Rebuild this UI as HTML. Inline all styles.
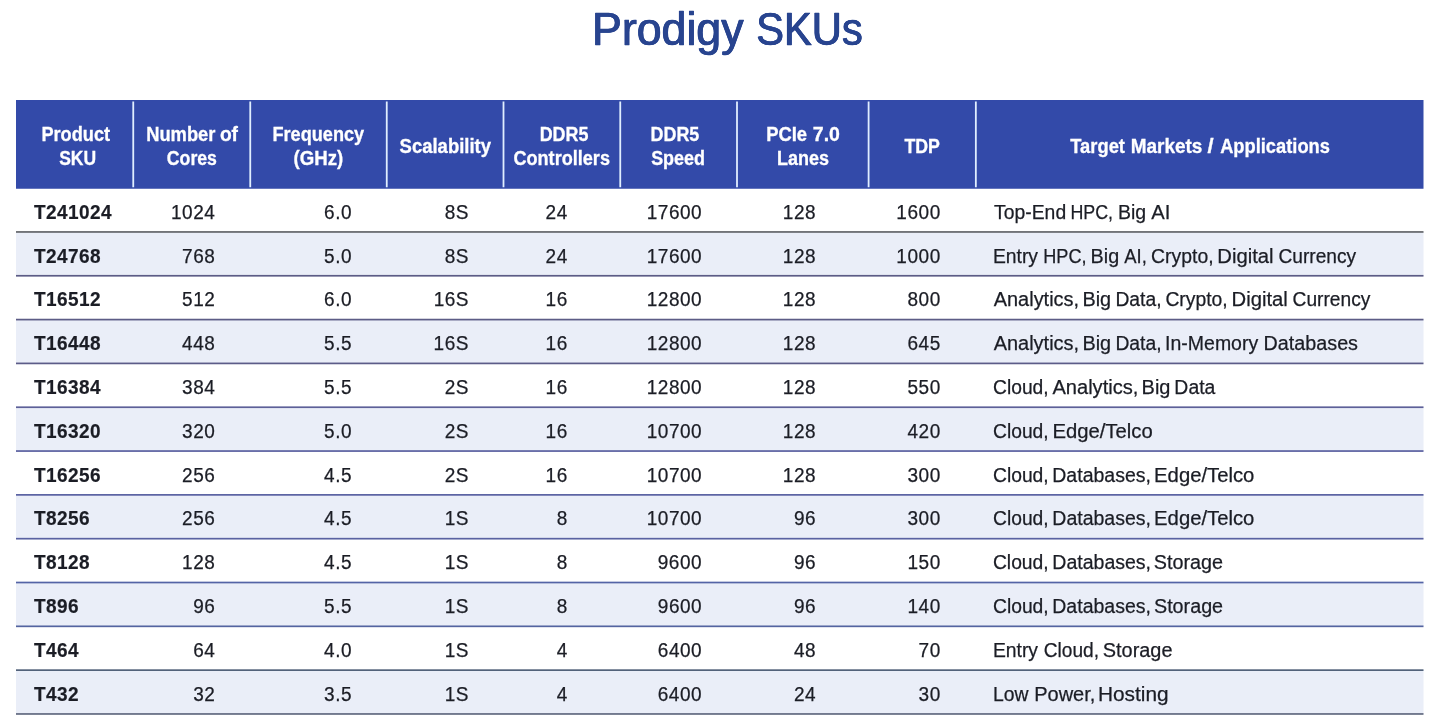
<!DOCTYPE html>
<html lang="en">
<head>
<meta charset="utf-8">
<title>Prodigy SKUs</title>
<style>
*{margin:0;padding:0;box-sizing:border-box}
html,body{width:1440px;height:720px;overflow:hidden;background:#fff}
body{position:relative;font-family:"Liberation Sans",Arial,Helvetica,sans-serif;color:#1b1d25}
svg.bg{position:absolute;left:0;top:0;width:1440px;height:720px}
.t{position:absolute;left:0;top:0;white-space:nowrap;line-height:1;transform-origin:0 0}
h1{font-size:45.6px;font-weight:normal;color:#28448f;-webkit-text-stroke:0.5px #28448f;text-shadow:0.5px 0 0 #28448f,-0.5px 0 0 #28448f}
.h{font-size:19.6px;font-weight:bold;color:#fff;-webkit-text-stroke:0.3px #fff}
.b{font-size:20.0px;font-weight:bold;-webkit-text-stroke:0.2px #1b1d25}
.n{font-size:20.0px;-webkit-text-stroke:0.25px #1b1d25}
</style>
</head>
<body>
<svg class="bg" width="1440" height="720" viewBox="0 0 1440 720" aria-hidden="true"><rect x="16" y="100" width="1407.5" height="88.75" fill="#334aa9"/><rect x="132.35" y="101.5" width="1.8" height="85.75" fill="#e0eeff"/><rect x="249.35" y="101.5" width="1.8" height="85.75" fill="#e0eeff"/><rect x="385.85" y="101.5" width="1.8" height="85.75" fill="#e0eeff"/><rect x="502.6" y="101.5" width="1.8" height="85.75" fill="#e0eeff"/><rect x="619.35" y="101.5" width="1.8" height="85.75" fill="#e0eeff"/><rect x="736.1" y="101.5" width="1.8" height="85.75" fill="#e0eeff"/><rect x="867.7" y="101.5" width="1.8" height="85.75" fill="#e0eeff"/><rect x="974.95" y="101.5" width="1.8" height="85.75" fill="#e0eeff"/><rect x="16" y="231.95" width="1407.5" height="43.82" fill="#eaeef8"/><rect x="16" y="319.59" width="1407.5" height="43.82" fill="#eaeef8"/><rect x="16" y="407.23" width="1407.5" height="43.82" fill="#eaeef8"/><rect x="16" y="494.87" width="1407.5" height="43.82" fill="#eaeef8"/><rect x="16" y="582.51" width="1407.5" height="43.82" fill="#eaeef8"/><rect x="16" y="670.15" width="1407.5" height="43.82" fill="#eaeef8"/><rect x="16" y="231.1" width="1407.5" height="1.7" fill="#63656a"/><rect x="16" y="274.92" width="1407.5" height="1.7" fill="#5c5c86"/><rect x="16" y="318.74" width="1407.5" height="1.7" fill="#5c5c86"/><rect x="16" y="362.56" width="1407.5" height="1.7" fill="#5c5c88"/><rect x="16" y="406.38" width="1407.5" height="1.7" fill="#5d6098"/><rect x="16" y="450.2" width="1407.5" height="1.7" fill="#5a60a0"/><rect x="16" y="494.02" width="1407.5" height="1.7" fill="#5a62a2"/><rect x="16" y="537.84" width="1407.5" height="1.7" fill="#5a62a2"/><rect x="16" y="581.66" width="1407.5" height="1.7" fill="#5464a6"/><rect x="16" y="625.48" width="1407.5" height="1.7" fill="#5464a0"/><rect x="16" y="669.3" width="1407.5" height="1.7" fill="#52627a"/><rect x="16" y="713.12" width="1407.5" height="1.7" fill="#626a80"/></svg>
<h1><span class="t" style="transform:translate(592.09px,7px) scaleX(0.9796)">Prodigy</span> 
<span class="t" style="transform:translate(756.16px,7px) scaleX(0.9144)">SKUs</span></h1>
<div class="th"><span class="t h" style="transform:translate(41.41px,125px) scaleX(0.927)">Product</span> 
<span class="t h" style="transform:translate(59.19px,149px) scaleX(0.8931)">SKU</span></div>
<div class="th"><span class="t h" style="transform:translate(146.16px,125px) scaleX(0.9358)">Number</span> 
<span class="t h" style="transform:translate(219.89px,125px) scaleX(0.9791)">of</span> 
<span class="t h" style="transform:translate(166.83px,149px) scaleX(0.902)">Cores</span></div>
<div class="th"><span class="t h" style="transform:translate(272.48px,125px) scaleX(0.9252)">Frequency</span> 
<span class="t h" style="transform:translate(293.6px,149px) scaleX(0.9507)">(GHz)</span></div>
<div class="th"><span class="t h" style="transform:translate(399.59px,137px) scaleX(0.943)">Scalability</span></div>
<div class="th"><span class="t h" style="transform:translate(539.68px,125px) scaleX(0.9126)">DDR5</span> 
<span class="t h" style="transform:translate(513.41px,149px) scaleX(0.924)">Controllers</span></div>
<div class="th"><span class="t h" style="transform:translate(650.55px,125px) scaleX(0.9143)">DDR5</span> 
<span class="t h" style="transform:translate(651.14px,149px) scaleX(0.9164)">Speed</span></div>
<div class="th"><span class="t h" style="transform:translate(766.22px,125px) scaleX(0.9382)">PCIe</span> 
<span class="t h" style="transform:translate(812.84px,125px) scaleX(0.9949)">7.0</span> 
<span class="t h" style="transform:translate(776.91px,149px) scaleX(0.918)">Lanes</span></div>
<div class="th"><span class="t h" style="transform:translate(904.44px,137px) scaleX(0.9066)">TDP</span></div>
<div class="th"><span class="t h" style="transform:translate(1070.28px,137px) scaleX(0.936)">Target</span> 
<span class="t h" style="transform:translate(1130.65px,137px) scaleX(0.9684)">Markets</span> 
<span class="t h" style="transform:translate(1207.44px,137px) scaleX(1.12)">/</span> 
<span class="t h" style="transform:translate(1220.15px,137px) scaleX(0.9335)">Applications</span></div>
<div class="tr"><span class="t b" style="transform:translate(34.04px,202px) scaleX(0.95);letter-spacing:0.46px">T241024</span>
<span class="t n" style="transform:translate(170.94px,202px) scaleX(0.95);letter-spacing:0.582px">1024</span>
<span class="t n" style="transform:translate(324.1px,202px) scaleX(0.95);letter-spacing:0.582px">6.0</span>
<span class="t n" style="transform:translate(444.74px,202px) scaleX(0.95);letter-spacing:0.582px">8S</span>
<span class="t n" style="transform:translate(545.58px,202px) scaleX(0.95);letter-spacing:0.582px">24</span>
<span class="t n" style="transform:translate(646.64px,202px) scaleX(0.95);letter-spacing:0.582px">17600</span>
<span class="t n" style="transform:translate(782.87px,202px) scaleX(0.95);letter-spacing:0.582px">128</span>
<span class="t n" style="transform:translate(896.28px,202px) scaleX(0.95);letter-spacing:0.582px">1600</span>
<div class="td"><span class="t n" style="transform:translate(994.09px,202px) scaleX(0.9672)">Top-End</span> 
<span class="t n" style="transform:translate(1070.42px,202px) scaleX(0.8924)">HPC,</span> 
<span class="t n" style="transform:translate(1117.91px,202px) scaleX(0.9756)">Big</span> 
<span class="t n" style="transform:translate(1151.15px,202px) scaleX(1.011)">AI</span></div></div>
<div class="tr"><span class="t b" style="transform:translate(34.04px,246px) scaleX(0.95);letter-spacing:0.46px">T24768</span>
<span class="t n" style="transform:translate(182.05px,246px) scaleX(0.95);letter-spacing:0.582px">768</span>
<span class="t n" style="transform:translate(324.1px,246px) scaleX(0.95);letter-spacing:0.582px">5.0</span>
<span class="t n" style="transform:translate(444.74px,246px) scaleX(0.95);letter-spacing:0.582px">8S</span>
<span class="t n" style="transform:translate(545.58px,246px) scaleX(0.95);letter-spacing:0.582px">24</span>
<span class="t n" style="transform:translate(646.64px,246px) scaleX(0.95);letter-spacing:0.582px">17600</span>
<span class="t n" style="transform:translate(782.87px,246px) scaleX(0.95);letter-spacing:0.582px">128</span>
<span class="t n" style="transform:translate(896.28px,246px) scaleX(0.95);letter-spacing:0.582px">1000</span>
<div class="td"><span class="t n" style="transform:translate(992.91px,246px) scaleX(0.9663)">Entry</span> 
<span class="t n" style="transform:translate(1043.2px,246px) scaleX(0.9064)">HPC,</span> 
<span class="t n" style="transform:translate(1090.58px,246px) scaleX(0.9874)">Big</span> 
<span class="t n" style="transform:translate(1124.24px,246px) scaleX(0.9217)">AI,</span> 
<span class="t n" style="transform:translate(1151.09px,246px) scaleX(0.969)">Crypto,</span> 
<span class="t n" style="transform:translate(1217.28px,246px) scaleX(1.0126)">Digital</span> 
<span class="t n" style="transform:translate(1278.44px,246px) scaleX(0.9584)">Currency</span></div></div>
<div class="tr"><span class="t b" style="transform:translate(34.04px,289px) scaleX(0.95);letter-spacing:0.46px">T16512</span>
<span class="t n" style="transform:translate(182.05px,289px) scaleX(0.95);letter-spacing:0.582px">512</span>
<span class="t n" style="transform:translate(324.1px,289px) scaleX(0.95);letter-spacing:0.582px">6.0</span>
<span class="t n" style="transform:translate(433.63px,289px) scaleX(0.95);letter-spacing:0.582px">16S</span>
<span class="t n" style="transform:translate(545.58px,289px) scaleX(0.95);letter-spacing:0.582px">16</span>
<span class="t n" style="transform:translate(646.64px,289px) scaleX(0.95);letter-spacing:0.582px">12800</span>
<span class="t n" style="transform:translate(782.87px,289px) scaleX(0.95);letter-spacing:0.582px">128</span>
<span class="t n" style="transform:translate(907.4px,289px) scaleX(0.95);letter-spacing:0.582px">800</span>
<div class="td"><span class="t n" style="transform:translate(993.71px,289px) scaleX(0.9973)">Analytics,</span> 
<span class="t n" style="transform:translate(1082.44px,289px) scaleX(0.9913)">Big</span> 
<span class="t n" style="transform:translate(1115.38px,289px) scaleX(0.965)">Data,</span> 
<span class="t n" style="transform:translate(1165.4px,289px) scaleX(0.9666)">Crypto,</span> 
<span class="t n" style="transform:translate(1231.6px,289px) scaleX(1.0116)">Digital</span> 
<span class="t n" style="transform:translate(1292.57px,289px) scaleX(0.9593)">Currency</span></div></div>
<div class="tr"><span class="t b" style="transform:translate(34.04px,333px) scaleX(0.95);letter-spacing:0.46px">T16448</span>
<span class="t n" style="transform:translate(182.05px,333px) scaleX(0.95);letter-spacing:0.582px">448</span>
<span class="t n" style="transform:translate(324.1px,333px) scaleX(0.95);letter-spacing:0.582px">5.5</span>
<span class="t n" style="transform:translate(433.62px,333px) scaleX(0.95);letter-spacing:0.582px">16S</span>
<span class="t n" style="transform:translate(545.58px,333px) scaleX(0.95);letter-spacing:0.582px">16</span>
<span class="t n" style="transform:translate(646.64px,333px) scaleX(0.95);letter-spacing:0.582px">12800</span>
<span class="t n" style="transform:translate(782.87px,333px) scaleX(0.95);letter-spacing:0.582px">128</span>
<span class="t n" style="transform:translate(907.4px,333px) scaleX(0.95);letter-spacing:0.582px">645</span>
<div class="td"><span class="t n" style="transform:translate(993.65px,333px) scaleX(0.9982)">Analytics,</span> 
<span class="t n" style="transform:translate(1082.46px,333px) scaleX(0.9915)">Big</span> 
<span class="t n" style="transform:translate(1115.42px,333px) scaleX(0.9654)">Data,</span> 
<span class="t n" style="transform:translate(1165.12px,333px) scaleX(0.9735)">In-Memory</span> 
<span class="t n" style="transform:translate(1263.58px,333px) scaleX(0.9873)">Databases</span></div></div>
<div class="tr"><span class="t b" style="transform:translate(34.04px,377px) scaleX(0.95);letter-spacing:0.46px">T16384</span>
<span class="t n" style="transform:translate(182.06px,377px) scaleX(0.95);letter-spacing:0.582px">384</span>
<span class="t n" style="transform:translate(324.1px,377px) scaleX(0.95);letter-spacing:0.582px">5.5</span>
<span class="t n" style="transform:translate(444.74px,377px) scaleX(0.95);letter-spacing:0.582px">2S</span>
<span class="t n" style="transform:translate(545.58px,377px) scaleX(0.95);letter-spacing:0.582px">16</span>
<span class="t n" style="transform:translate(646.64px,377px) scaleX(0.95);letter-spacing:0.582px">12800</span>
<span class="t n" style="transform:translate(782.87px,377px) scaleX(0.95);letter-spacing:0.582px">128</span>
<span class="t n" style="transform:translate(907.4px,377px) scaleX(0.95);letter-spacing:0.582px">550</span>
<div class="td"><span class="t n" style="transform:translate(993.03px,377px) scaleX(0.9622)">Cloud,</span> 
<span class="t n" style="transform:translate(1052.39px,377px) scaleX(1.0048)">Analytics,</span> 
<span class="t n" style="transform:translate(1141.62px,377px) scaleX(0.9979)">Big</span> 
<span class="t n" style="transform:translate(1174.37px,377px) scaleX(0.9701)">Data</span></div></div>
<div class="tr"><span class="t b" style="transform:translate(34.04px,421px) scaleX(0.95);letter-spacing:0.46px">T16320</span>
<span class="t n" style="transform:translate(182.05px,421px) scaleX(0.95);letter-spacing:0.582px">320</span>
<span class="t n" style="transform:translate(324.1px,421px) scaleX(0.95);letter-spacing:0.582px">5.0</span>
<span class="t n" style="transform:translate(444.74px,421px) scaleX(0.95);letter-spacing:0.582px">2S</span>
<span class="t n" style="transform:translate(545.58px,421px) scaleX(0.95);letter-spacing:0.582px">16</span>
<span class="t n" style="transform:translate(646.64px,421px) scaleX(0.95);letter-spacing:0.582px">10700</span>
<span class="t n" style="transform:translate(782.87px,421px) scaleX(0.95);letter-spacing:0.582px">128</span>
<span class="t n" style="transform:translate(907.4px,421px) scaleX(0.95);letter-spacing:0.582px">420</span>
<div class="td"><span class="t n" style="transform:translate(993.03px,421px) scaleX(0.9622)">Cloud,</span> 
<span class="t n" style="transform:translate(1052.38px,421px) scaleX(1.0137)">Edge/Telco</span></div></div>
<div class="tr"><span class="t b" style="transform:translate(34.04px,465px) scaleX(0.95);letter-spacing:0.46px">T16256</span>
<span class="t n" style="transform:translate(182.06px,465px) scaleX(0.95);letter-spacing:0.582px">256</span>
<span class="t n" style="transform:translate(324.1px,465px) scaleX(0.95);letter-spacing:0.582px">4.5</span>
<span class="t n" style="transform:translate(444.75px,465px) scaleX(0.95);letter-spacing:0.582px">2S</span>
<span class="t n" style="transform:translate(545.58px,465px) scaleX(0.95);letter-spacing:0.582px">16</span>
<span class="t n" style="transform:translate(646.64px,465px) scaleX(0.95);letter-spacing:0.582px">10700</span>
<span class="t n" style="transform:translate(782.87px,465px) scaleX(0.95);letter-spacing:0.582px">128</span>
<span class="t n" style="transform:translate(907.4px,465px) scaleX(0.95);letter-spacing:0.582px">300</span>
<div class="td"><span class="t n" style="transform:translate(992.98px,465px) scaleX(0.9635)">Cloud,</span> 
<span class="t n" style="transform:translate(1052.28px,465px) scaleX(0.9751)">Databases,</span> 
<span class="t n" style="transform:translate(1154.09px,465px) scaleX(1.0134)">Edge/Telco</span></div></div>
<div class="tr"><span class="t b" style="transform:translate(34.04px,508px) scaleX(0.95);letter-spacing:0.46px">T8256</span>
<span class="t n" style="transform:translate(182.06px,508px) scaleX(0.95);letter-spacing:0.582px">256</span>
<span class="t n" style="transform:translate(324.1px,508px) scaleX(0.95);letter-spacing:0.582px">4.5</span>
<span class="t n" style="transform:translate(444.74px,508px) scaleX(0.95);letter-spacing:0.582px">1S</span>
<span class="t n" style="transform:translate(556.7px,508px) scaleX(0.95);letter-spacing:0.582px">8</span>
<span class="t n" style="transform:translate(646.64px,508px) scaleX(0.95);letter-spacing:0.582px">10700</span>
<span class="t n" style="transform:translate(793.99px,508px) scaleX(0.95);letter-spacing:0.582px">96</span>
<span class="t n" style="transform:translate(907.4px,508px) scaleX(0.95);letter-spacing:0.582px">300</span>
<div class="td"><span class="t n" style="transform:translate(993.03px,508px) scaleX(0.9622)">Cloud,</span> 
<span class="t n" style="transform:translate(1052.31px,508px) scaleX(0.9752)">Databases,</span> 
<span class="t n" style="transform:translate(1154.1px,508px) scaleX(1.0133)">Edge/Telco</span></div></div>
<div class="tr"><span class="t b" style="transform:translate(34.04px,552px) scaleX(0.95);letter-spacing:0.46px">T8128</span>
<span class="t n" style="transform:translate(182.05px,552px) scaleX(0.95);letter-spacing:0.582px">128</span>
<span class="t n" style="transform:translate(324.1px,552px) scaleX(0.95);letter-spacing:0.582px">4.5</span>
<span class="t n" style="transform:translate(444.75px,552px) scaleX(0.95);letter-spacing:0.582px">1S</span>
<span class="t n" style="transform:translate(556.7px,552px) scaleX(0.95);letter-spacing:0.582px">8</span>
<span class="t n" style="transform:translate(657.75px,552px) scaleX(0.95);letter-spacing:0.582px">9600</span>
<span class="t n" style="transform:translate(793.99px,552px) scaleX(0.95);letter-spacing:0.582px">96</span>
<span class="t n" style="transform:translate(907.39px,552px) scaleX(0.95);letter-spacing:0.582px">150</span>
<div class="td"><span class="t n" style="transform:translate(992.94px,552px) scaleX(0.9635)">Cloud,</span> 
<span class="t n" style="transform:translate(1052.29px,552px) scaleX(0.9761)">Databases,</span> 
<span class="t n" style="transform:translate(1153.86px,552px) scaleX(0.9885)">Storage</span></div></div>
<div class="tr"><span class="t b" style="transform:translate(34.04px,596px) scaleX(0.95);letter-spacing:0.46px">T896</span>
<span class="t n" style="transform:translate(193.17px,596px) scaleX(0.95);letter-spacing:0.582px">96</span>
<span class="t n" style="transform:translate(324.1px,596px) scaleX(0.95);letter-spacing:0.582px">5.5</span>
<span class="t n" style="transform:translate(444.75px,596px) scaleX(0.95);letter-spacing:0.582px">1S</span>
<span class="t n" style="transform:translate(556.69px,596px) scaleX(0.95);letter-spacing:0.582px">8</span>
<span class="t n" style="transform:translate(657.76px,596px) scaleX(0.95);letter-spacing:0.582px">9600</span>
<span class="t n" style="transform:translate(793.99px,596px) scaleX(0.95);letter-spacing:0.582px">96</span>
<span class="t n" style="transform:translate(907.4px,596px) scaleX(0.95);letter-spacing:0.582px">140</span>
<div class="td"><span class="t n" style="transform:translate(992.98px,596px) scaleX(0.9635)">Cloud,</span> 
<span class="t n" style="transform:translate(1052.28px,596px) scaleX(0.9751)">Databases,</span> 
<span class="t n" style="transform:translate(1153.98px,596px) scaleX(0.9863)">Storage</span></div></div>
<div class="tr"><span class="t b" style="transform:translate(34.04px,640px) scaleX(0.95);letter-spacing:0.46px">T464</span>
<span class="t n" style="transform:translate(193.17px,640px) scaleX(0.95);letter-spacing:0.582px">64</span>
<span class="t n" style="transform:translate(324.1px,640px) scaleX(0.95);letter-spacing:0.582px">4.0</span>
<span class="t n" style="transform:translate(444.74px,640px) scaleX(0.95);letter-spacing:0.582px">1S</span>
<span class="t n" style="transform:translate(556.7px,640px) scaleX(0.95);letter-spacing:0.582px">4</span>
<span class="t n" style="transform:translate(657.76px,640px) scaleX(0.95);letter-spacing:0.582px">6400</span>
<span class="t n" style="transform:translate(793.99px,640px) scaleX(0.95);letter-spacing:0.582px">48</span>
<span class="t n" style="transform:translate(918.51px,640px) scaleX(0.95);letter-spacing:0.582px">70</span>
<div class="td"><span class="t n" style="transform:translate(992.91px,640px) scaleX(0.9663)">Entry</span> 
<span class="t n" style="transform:translate(1043.7px,640px) scaleX(0.9557)">Cloud,</span> 
<span class="t n" style="transform:translate(1102.77px,640px) scaleX(0.995)">Storage</span></div></div>
<div class="tr"><span class="t b" style="transform:translate(34.04px,684px) scaleX(0.95);letter-spacing:0.46px">T432</span>
<span class="t n" style="transform:translate(193.17px,684px) scaleX(0.95);letter-spacing:0.582px">32</span>
<span class="t n" style="transform:translate(324.1px,684px) scaleX(0.95);letter-spacing:0.582px">3.5</span>
<span class="t n" style="transform:translate(444.75px,684px) scaleX(0.95);letter-spacing:0.582px">1S</span>
<span class="t n" style="transform:translate(556.7px,684px) scaleX(0.95);letter-spacing:0.582px">4</span>
<span class="t n" style="transform:translate(657.75px,684px) scaleX(0.95);letter-spacing:0.582px">6400</span>
<span class="t n" style="transform:translate(793.99px,684px) scaleX(0.95);letter-spacing:0.582px">24</span>
<span class="t n" style="transform:translate(918.52px,684px) scaleX(0.95);letter-spacing:0.582px">30</span>
<div class="td"><span class="t n" style="transform:translate(993.01px,684px) scaleX(0.9667)">Low</span> 
<span class="t n" style="transform:translate(1034.17px,684px)">Power,</span> 
<span class="t n" style="transform:translate(1098.0px,684px) scaleX(1.0413)">Hosting</span></div></div>
</body>
</html>
